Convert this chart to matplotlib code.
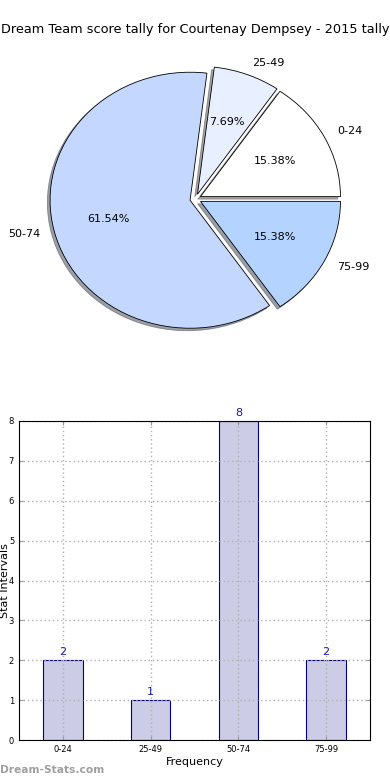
import numpy as np
import matplotlib
matplotlib.use("Agg")
import matplotlib.pyplot as plt

intervals = ["0-24", "25-49", "50-74", "75-99"]
counts = [2, 1, 8, 2]
slice_colors = ["#ffffff", "#e8f0ff", "#c4d8ff", "#b4d4ff"]
title = "Dream Team score tally for Courtenay Dempsey - 2015 tally"

fig = plt.figure(figsize=(3.9, 7.8), dpi=100)
fig.patch.set_facecolor("white")

# pie on top (old style, not forced round)
pw, ph = 350, 320
ax1 = fig.add_axes([(195.5 - pw / 2) / 390, (780 - 199 - ph / 2) / 780, pw / 390, ph / 780])
ax1.pie(counts, labels=intervals, colors=slice_colors, autopct="%.2f%%",
        explode=[0.04] * len(counts), shadow={"ox": -0.014, "oy": -0.014},
        startangle=0,
        wedgeprops=dict(edgecolor="black", linewidth=0.6),
        textprops=dict(fontsize=8))
ax1.set_aspect("auto")
ax1.set_xlim(-1.25, 1.25)
ax1.set_ylim(-1.25, 1.25)
fig.text(0.5, 1 - 30 / 780, title, ha="center", va="center", fontsize=9.3)

# bars below
ax2 = fig.add_axes([19 / 390, 40 / 780, 351 / 390, 319 / 780])
x = np.arange(len(intervals))
ax2.bar(x, counts, width=0.45, color="#ccccE6", edgecolor="#000080", linewidth=0.8, zorder=2)
for xi, c in zip(x, counts):
    ax2.text(xi, c + 0.08, str(c), ha="center", va="bottom", fontsize=8, color="#1a1aa0")
ax2.set_xlim(-0.5, 3.5)
ax2.set_ylim(0, 8)
ax2.set_xticks(x)
ax2.set_xticklabels(intervals)
ax2.set_yticks(range(0, 9))
ax2.tick_params(labelsize=6, direction="in", color="#999999", length=3, top=True, right=True)
ax2.grid(True, linestyle=(0, (1, 2)), color="#b0b0b0", linewidth=1.0)
ax2.set_axisbelow(False)
for sp in ax2.spines.values():
    sp.set_zorder(3)
ax2.set_xlabel("Frequency", fontsize=8, labelpad=2)
ax2.set_ylabel("Stat Intervals", fontsize=8)
ax2.yaxis.set_label_coords(-0.026, 0.5)

fig.text(0.0, 1 - 770 / 780, "Dream-Stats.com", fontsize=7.7, color="#a0a0a0",
         fontweight="semibold", ha="left", va="center")

fig.savefig("out.png", dpi=100)
